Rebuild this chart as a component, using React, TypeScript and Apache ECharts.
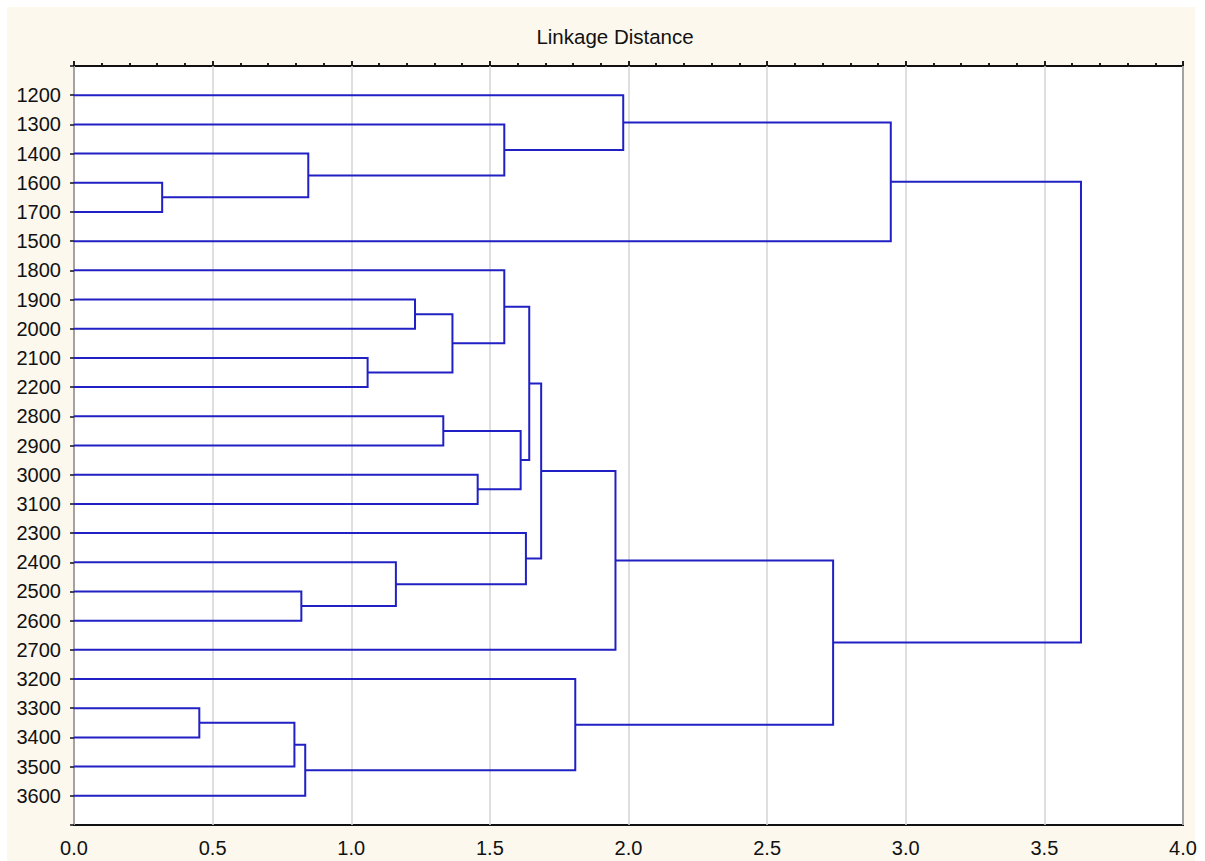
import React, { useEffect, useRef } from "react";
import * as echarts from "echarts";

// Leaf order (top to bottom)
const leaves = [
  "1200", "1300", "1400", "1600", "1700", "1500",
  "1800", "1900", "2000", "2100", "2200",
  "2800", "2900", "3000", "3100",
  "2300", "2400", "2500", "2600", "2700",
  "3200", "3300", "3400", "3500", "3600",
];

// Merges: left node, right node ("#k" refers to merge k), linkage distance
const mergeLeft = [
  "1600", "1400", "1300", "1200", "#3",
  "1900", "2100", "#5", "1800",
  "2800", "3000", "#9", "#8",
  "2500", "2400", "2300", "#12", "#16",
  "3300", "#18", "#19", "3200", "#17", "#4",
];
const mergeRight = [
  "1700", "#0", "#1", "#2", "1500",
  "2000", "2200", "#6", "#7",
  "2900", "3100", "#10", "#11",
  "2600", "#13", "#14", "#15", "2700",
  "3400", "3500", "3600", "#20", "#21", "#22",
];
const mergeDistance = [
  0.318, 0.845, 1.552, 1.981, 2.946,
  1.230, 1.059, 1.365, 1.552,
  1.332, 1.456, 1.611, 1.642,
  0.820, 1.161, 1.630, 1.685, 1.953,
  0.452, 0.795, 0.834, 1.808, 2.738, 3.632,
];

const xTicks = [0, 0.5, 1, 1.5, 2, 2.5, 3, 3.5, 4];

function buildSegments() {
  const pos: Record<string, [number, number]> = {};
  leaves.forEach((l, i) => (pos[l] = [0, i + 1]));
  const out: number[][] = [];
  mergeDistance.forEach((d, k) => {
    const a = pos[mergeLeft[k]];
    const b = pos[mergeRight[k]];
    out.push([a[0], a[1], b[0], b[1], d]);
    pos["#" + k] = [d, (a[1] + b[1]) / 2];
  });
  return out;
}

export default function App() {
  const ref = useRef<HTMLDivElement>(null);
  useEffect(() => {
    if (!ref.current) return;
    const chart = echarts.init(ref.current, null, { renderer: "svg" });
    const segs = buildSegments();
    const font = "Arial, 'Liberation Sans', sans-serif";
    const lineColor = "#2020c4";
    const tickStyle = { color: "#111", width: 1.5 };
    chart.setOption({
      animation: false,
      backgroundColor: "#ffffff",
      graphic: [
        {
          type: "rect",
          z: -100,
          silent: true,
          shape: { x: 7, y: 7, width: 1188, height: 860 },
          style: { fill: "#fcf8ee" },
        },
      ],
      title: {
        text: "Linkage Distance",
        left: 610,
        top: 21,
        textAlign: "center",
        textStyle: { fontFamily: font, fontSize: 20.5, fontWeight: "normal", color: "#111" },
      },
      grid: {
        left: 74,
        right: 22,
        top: 66,
        bottom: 36,
        show: true,
        backgroundColor: "#ffffff",
        borderColor: "#111",
        borderWidth: 2,
      },
      xAxis: [
        {
          type: "value",
          position: "bottom",
          min: 0,
          max: 4,
          interval: 0.5,
          axisLine: { show: false },
          axisTick: { show: true, inside: true, length: 5, lineStyle: tickStyle },
          minorTick: { show: true, splitNumber: 5, length: 3, lineStyle: tickStyle },
          splitLine: { show: true, lineStyle: { color: "#d4d4d4", width: 1.5 } },
          axisLabel: {
            margin: 13,
            fontFamily: font,
            fontSize: 20,
            color: "#111",
            customValues: xTicks,
            formatter: (v: number) => v.toFixed(1),
          },
        },
        {
          type: "value",
          position: "top",
          min: 0,
          max: 4,
          interval: 0.5,
          axisLine: { show: false },
          axisTick: { show: true, inside: false, length: 5, lineStyle: tickStyle },
          minorTick: { show: true, splitNumber: 5, length: 3, lineStyle: tickStyle },
          splitLine: { show: false },
          axisLabel: { show: false },
        },
      ],
      yAxis: [
        {
          type: "value",
          position: "left",
          inverse: true,
          min: 0,
          max: leaves.length + 1,
          interval: 1,
          axisLine: { show: false },
          axisTick: { show: false },
          splitLine: { show: false },
          axisLabel: {
            margin: 13,
            fontFamily: font,
            fontSize: 20,
            color: "#111",
            formatter: (v: number) => leaves[v - 1] ?? "",
          },
        },
        {
          type: "value",
          position: "right",
          inverse: true,
          min: 0,
          max: leaves.length + 1,
          interval: 1,
          axisLine: { show: false },
          axisTick: { show: true, inside: true, length: 4, lineStyle: tickStyle },
          splitLine: { show: false },
          axisLabel: { show: false },
        },
      ],
      series: [
        {
          type: "custom",
          xAxisIndex: 0,
          yAxisIndex: 0,
          data: segs,
          encode: { x: [0, 2, 4], y: [1, 3] },
          renderItem: (params: any, api: any) => {
            const ax = api.value(0);
            const ay = api.value(1);
            const bx = api.value(2);
            const by = api.value(3);
            const d = api.value(4);
            const p1 = api.coord([ax, ay]);
            const p2 = api.coord([d, ay]);
            const p3 = api.coord([d, by]);
            const p4 = api.coord([bx, by]);
            return {
              type: "polyline",
              shape: { points: [p1, p2, p3, p4] },
              style: { stroke: lineColor, lineWidth: 2, fill: "none" },
            };
          },
        },
      ],
    });
    return () => chart.dispose();
  }, []);
  return (
    <div
      ref={ref}
      style={{ position: "fixed", left: 0, top: 0, width: 1205, height: 861 }}
    />
  );
}
